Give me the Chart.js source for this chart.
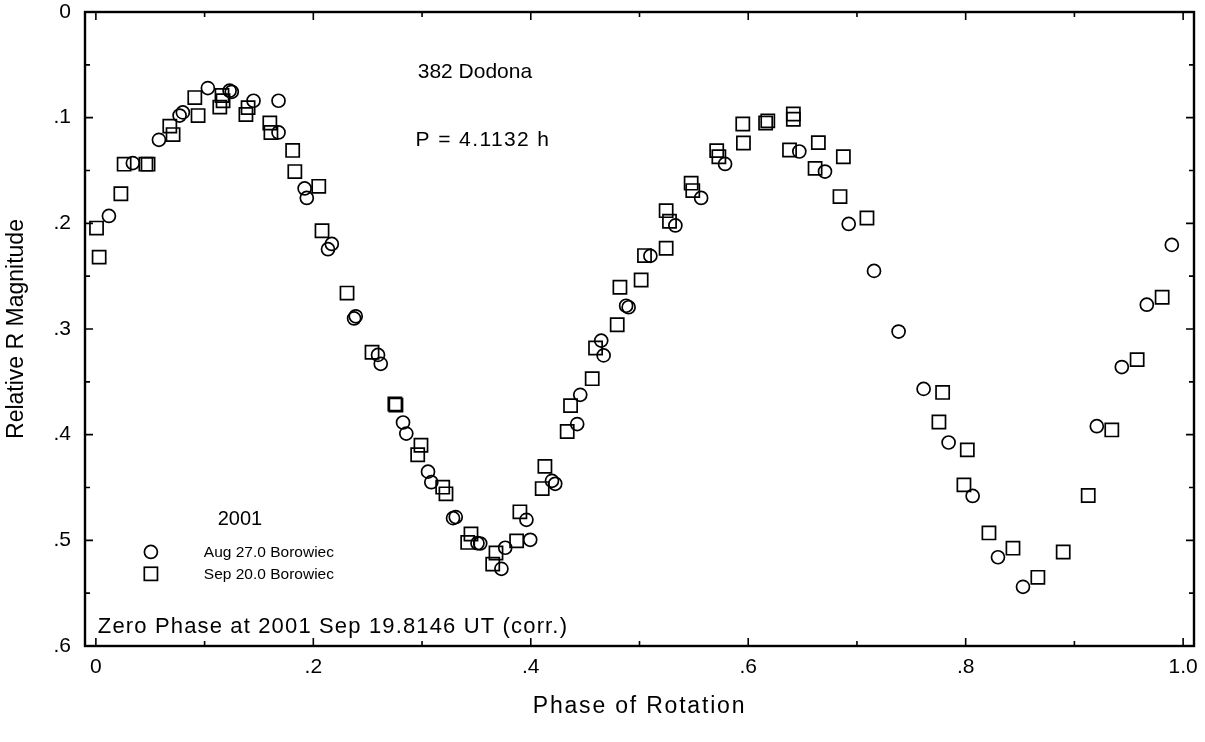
<!DOCTYPE html>
<html>
<head>
<meta charset="utf-8">
<script src="https://cdn.jsdelivr.net/npm/chart.js"></script>
<style>
  html, body { margin: 0; padding: 0; background: #ffffff; }
  #wrap { width: 1205px; height: 742px; }
</style>
</head>
<body>
<div id="wrap"><canvas id="c" width="1205" height="742"></canvas></div>
<script>
// ---- Data ----
const augLabel = 'Aug 27.0 Borowiec';
const sepLabel = 'Sep 20.0 Borowiec';

const augPhase = [0.012,0.034,0.058,0.077,0.080,0.103,0.123,0.125,0.145,0.168,0.168,0.192,0.194,0.2135,0.217,0.2375,0.239,0.2595,0.262,0.2825,0.2855,0.3055,0.3085,0.3285,0.331,0.351,0.3535,0.373,0.3765,0.396,0.3995,0.4195,0.4225,0.4427,0.4455,0.4648,0.467,0.4877,0.490,0.510,0.533,0.5567,0.5787,0.647,0.6706,0.6924,0.7157,0.7383,0.7613,0.7843,0.8064,0.8297,0.8527,0.9206,0.9436,0.9666,0.9896];
const augMag   = [0.193,0.143,0.121,0.098,0.095,0.072,0.0745,0.0755,0.084,0.084,0.114,0.167,0.176,0.2245,0.2195,0.290,0.288,0.3245,0.333,0.3885,0.399,0.435,0.445,0.479,0.478,0.5027,0.503,0.527,0.507,0.4806,0.4995,0.4437,0.4465,0.390,0.3623,0.311,0.325,0.278,0.2794,0.2308,0.202,0.176,0.1438,0.132,0.151,0.2006,0.245,0.3024,0.3567,0.4074,0.458,0.516,0.544,0.392,0.336,0.277,0.2204];

const sepPhase = [0.0006,0.003,0.023,0.026,0.046,0.048,0.068,0.071,0.091,0.094,0.114,0.116,0.117,0.138,0.140,0.160,0.161,0.181,0.183,0.205,0.208,0.231,0.254,0.275,0.276,0.296,0.299,0.319,0.322,0.342,0.345,0.365,0.368,0.387,0.390,0.4105,0.413,0.4335,0.4366,0.4565,0.4596,0.4795,0.482,0.5015,0.5046,0.5245,0.5245,0.5276,0.5475,0.549,0.571,0.573,0.595,0.5956,0.616,0.618,0.638,0.6415,0.6415,0.6615,0.6645,0.6844,0.6875,0.7092,0.7754,0.7788,0.7984,0.8015,0.8214,0.8435,0.8664,0.8897,0.9127,0.9344,0.9577,0.9807];
const sepMag   = [0.2045,0.232,0.172,0.144,0.144,0.144,0.108,0.116,0.081,0.098,0.090,0.079,0.084,0.097,0.0905,0.105,0.114,0.131,0.151,0.165,0.207,0.266,0.322,0.371,0.372,0.419,0.410,0.4497,0.456,0.502,0.494,0.5225,0.512,0.5005,0.473,0.451,0.430,0.397,0.3725,0.347,0.318,0.296,0.2605,0.2536,0.2305,0.2236,0.188,0.198,0.162,0.169,0.1312,0.137,0.106,0.124,0.105,0.103,0.1306,0.0965,0.1015,0.148,0.1236,0.1747,0.137,0.195,0.388,0.360,0.4475,0.4144,0.493,0.5074,0.535,0.511,0.4576,0.3955,0.329,0.270];

const xTickValues = [0, 0.2, 0.4, 0.6, 0.8, 1.0];
const xTickLabels = ['0', '.2', '.4', '.6', '.8', '1.0'];
const xMinorValues = [0.1, 0.3, 0.5, 0.7, 0.9];
const yTickValues = [0, 0.1, 0.2, 0.3, 0.4, 0.5, 0.6];
const yTickLabels = ['0', '.1', '.2', '.3', '.4', '.5', '.6'];
const yMinorValues = [0.05, 0.15, 0.25, 0.35, 0.45, 0.55];

const xTitle = 'Phase of Rotation';
const yTitle = 'Relative R Magnitude';
const objectName = '382 Dodona';
const periodText = 'P = 4.1132 h';
const yearText = '2001';
const zeroPhaseText = 'Zero Phase at 2001 Sep 19.8146 UT (corr.)';

// ---- Styling ----
const FONT = '"Liberation Sans", Arial, Helvetica, sans-serif';
const CIRCLE_R = 6.5;
const SQUARE_R = 9.3;   // Chart.js rect side = 2*sqrt(1/2)*r
const MARK_W = 1.7;

function toPoints(xs, ys) { return xs.map((x, i) => ({ x: x, y: ys[i] })); }

function spacedText(ctx, text, x, y, spacing) {
  ctx.letterSpacing = spacing + 'px';
  ctx.fillText(text, x, y);
  ctx.letterSpacing = '0px';
}

const framePlugin = {
  id: 'frameTicks',
  afterDatasetsDraw(chart) {
    const { ctx, chartArea: a, scales: { x, y } } = chart;
    ctx.save();
    ctx.strokeStyle = '#000';
    ctx.lineWidth = 1.6;
    const major = 8, minor = 5;
    ctx.beginPath();
    xTickValues.forEach(v => { const p = x.getPixelForValue(v);
      ctx.moveTo(p, a.bottom); ctx.lineTo(p, a.bottom - major);
      ctx.moveTo(p, a.top); ctx.lineTo(p, a.top + major); });
    xMinorValues.forEach(v => { const p = x.getPixelForValue(v);
      ctx.moveTo(p, a.bottom); ctx.lineTo(p, a.bottom - minor);
      ctx.moveTo(p, a.top); ctx.lineTo(p, a.top + minor); });
    yTickValues.forEach(v => { const p = y.getPixelForValue(v);
      ctx.moveTo(a.left, p); ctx.lineTo(a.left + major, p);
      ctx.moveTo(a.right, p); ctx.lineTo(a.right - major, p); });
    yMinorValues.forEach(v => { const p = y.getPixelForValue(v);
      ctx.moveTo(a.left, p); ctx.lineTo(a.left + minor, p);
      ctx.moveTo(a.right, p); ctx.lineTo(a.right - minor, p); });
    ctx.stroke();
    ctx.lineWidth = 2.4;
    ctx.strokeRect(a.left, a.top, a.right - a.left, a.bottom - a.top);
    ctx.restore();
  },
  afterDraw(chart) {
    const { ctx, scales: { x, y } } = chart;
    ctx.save();
    ctx.fillStyle = '#000';
    ctx.strokeStyle = '#000';
    ctx.textBaseline = 'middle';
    ctx.textAlign = 'left';
    ctx.font = '21px ' + FONT;
    spacedText(ctx, objectName, x.getPixelForValue(0.296), y.getPixelForValue(0.0568), 0);
    spacedText(ctx, periodText, x.getPixelForValue(0.294), y.getPixelForValue(0.121), 1.4);
    ctx.font = '22px ' + FONT;
    spacedText(ctx, zeroPhaseText, x.getPixelForValue(0.0018), y.getPixelForValue(0.5818), 1.15);
    ctx.font = '20px ' + FONT;
    ctx.textAlign = 'center';
    spacedText(ctx, yearText, x.getPixelForValue(0.1325), y.getPixelForValue(0.4806), 0);
    // legend
    ctx.textAlign = 'left';
    ctx.font = '15.5px ' + FONT;
    const mx = x.getPixelForValue(0.0506);
    const tx = x.getPixelForValue(0.0993);
    const cy = y.getPixelForValue(0.511);
    const sy = y.getPixelForValue(0.5317);
    ctx.lineWidth = MARK_W;
    ctx.beginPath(); ctx.arc(mx, cy, CIRCLE_R, 0, Math.PI * 2); ctx.stroke();
    const s = SQUARE_R * Math.SQRT1_2;
    ctx.strokeRect(mx - s, sy - s, 2 * s, 2 * s);
    ctx.fillText(augLabel, tx, cy + 1);
    ctx.fillText(sepLabel, tx, sy + 1);
    ctx.restore();
  }
};

function zeroPad(s) { s.paddingTop = 0; s.paddingBottom = 0; s.paddingLeft = 0; s.paddingRight = 0; }
function spaceTitle(s, px) {
  if (s._spacedTitle) return;
  const orig = s.drawTitle;
  s.drawTitle = function () {
    const c = this.ctx;
    const prev = c.letterSpacing;
    c.letterSpacing = px + 'px';
    orig.call(this);
    c.letterSpacing = prev || '0px';
  };
  s._spacedTitle = true;
}

new Chart(document.getElementById('c'), {
  type: 'scatter',
  data: {
    datasets: [
      { label: augLabel, data: toPoints(augPhase, augMag), pointStyle: 'circle',
        pointRadius: CIRCLE_R, pointHoverRadius: CIRCLE_R, borderColor: '#000',
        backgroundColor: 'rgba(0,0,0,0)', borderWidth: MARK_W },
      { label: sepLabel, data: toPoints(sepPhase, sepMag), pointStyle: 'rect',
        pointRadius: SQUARE_R, pointHoverRadius: SQUARE_R, borderColor: '#000',
        backgroundColor: 'rgba(0,0,0,0)', borderWidth: MARK_W }
    ]
  },
  options: {
    responsive: false,
    animation: false,
    devicePixelRatio: 1,
    layout: { padding: { top: 12, right: 10, left: 0, bottom: 0 } },
    plugins: { legend: { display: false }, tooltip: { enabled: false } },
    scales: {
      x: {
        type: 'linear', min: -0.01, max: 1.01,
        afterBuildTicks: s => { s.ticks = xTickValues.map(v => ({ value: v })); },
        afterFit: s => { s.height = 96; zeroPad(s); spaceTitle(s, 1.8); },
        grid: { display: false, drawTicks: false, tickLength: 0 },
        border: { display: false },
        ticks: { padding: 9, color: '#000', font: { family: FONT, size: 21 },
          maxRotation: 0, autoSkip: false,
          callback: (v, i) => xTickLabels[i] },
        title: { display: true, text: xTitle, color: '#000',
          font: { family: FONT, size: 23 }, padding: { top: 0, bottom: 22 } }
      },
      y: {
        type: 'linear', min: 0, max: 0.6, reverse: true,
        afterBuildTicks: s => { s.ticks = yTickValues.map(v => ({ value: v })); },
        afterFit: s => { s.width = 85; zeroPad(s); },
        grid: { display: false, drawTicks: false, tickLength: 0 },
        border: { display: false },
        ticks: { padding: 14, color: '#000', font: { family: FONT, size: 21 },
          autoSkip: false, callback: (v, i) => yTickLabels[i] },
        title: { display: true, text: yTitle, color: '#000',
          font: { family: FONT, size: 23 }, padding: { top: 3, bottom: 0 } }
      }
    }
  },
  plugins: [framePlugin]
});
</script>
</body>
</html>
